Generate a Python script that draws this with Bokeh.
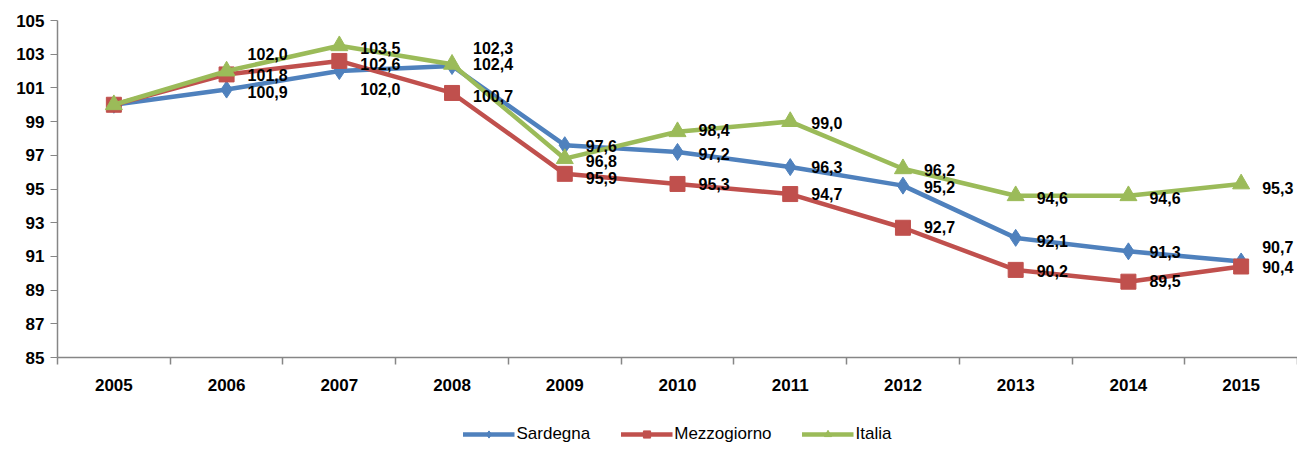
from bokeh.plotting import figure
from bokeh.layouts import column
from bokeh.models import Range1d, FixedTicker, ColumnDataSource, Legend, LegendItem
from bokeh.core.properties import value
from bokeh.embed import file_html
from bokeh.resources import INLINE

years = ["2005", "2006", "2007", "2008", "2009", "2010", "2011", "2012", "2013", "2014", "2015"]
sardegna = [100.0, 100.9, 102.0, 102.3, 97.6, 97.2, 96.3, 95.2, 92.1, 91.3, 90.7]
mezzogiorno = [100.0, 101.8, 102.6, 100.7, 95.9, 95.3, 94.7, 92.7, 90.2, 89.5, 90.4]
italia = [100.0, 102.0, 103.5, 102.4, 96.8, 98.4, 99.0, 96.2, 94.6, 94.6, 95.3]
y_ticks = [85, 87, 89, 91, 93, 95, 97, 99, 101, 103, 105]

# label vertical nudges in screen px (positive = down); index 0 (2005) has no label
sard_dy = [0, 2, 18, -18, 1, 2, 0, 1, 3, 1, -14]
mezz_dy = [0, 1, 3, 3, 4, 0, 0, -1, 1, -1, 0]
ital_dy = [0, -17, 2, 0, 2, -2, 1, 1, 2, 2, 4]

BLUE = "#4F81BD"
RED = "#C0504D"
GREEN = "#9BBB59"
FONT = "Liberation Sans"

x = list(range(len(years)))

p = figure(width=1297, height=410, output_backend="svg", toolbar_location=None,
           x_range=Range1d(-0.5, 10.5), y_range=Range1d(85, 105),
           min_border_left=57, min_border_right=0, min_border_top=20, min_border_bottom=53)
p.outline_line_color = None
p.xgrid.visible = False
p.ygrid.visible = False

series = [("Sardegna", sardegna, BLUE, "diamond", 17, 18, sard_dy),
          ("Mezzogiorno", mezzogiorno, RED, "square", 15, 14, mezz_dy),
          ("Italia", italia, GREEN, "triangle", 17, 16, ital_dy)]

for name, vals, col, mk, sz, lsz, dy in series:
    src = ColumnDataSource(dict(x=x, y=vals))
    p.line("x", "y", source=src, line_color=col, line_width=4.5)
    p.scatter("x", "y", source=src, marker=mk, size=sz, fill_color=col, line_color=col)

for name, vals, col, mk, sz, lsz, dy in series:
    lab = [f"{v:.1f}".replace(".", ",") for v in vals]
    src = ColumnDataSource(dict(x=x[1:], y=vals[1:], t=lab[1:], dy=dy[1:]))
    p.text("x", "y", text="t", source=src, x_offset=21, y_offset="dy",
           text_baseline="middle", text_align="left",
           text_font=value(FONT), text_font_style="bold", text_font_size="16px",
           text_color="black")

# y axis
ya = p.yaxis[0]
ya.ticker = FixedTicker(ticks=y_ticks)
ya.axis_line_color = "#868686"
ya.axis_line_width = 1.5
ya.major_tick_line_color = "#868686"
ya.major_tick_out = 7
ya.major_tick_in = 0
ya.minor_tick_line_color = None
ya.major_label_standoff = 6
ya.major_label_text_font = FONT
ya.major_label_text_font_style = "bold"
ya.major_label_text_font_size = "17px"
ya.major_label_text_color = "black"

# x axis
xa = p.xaxis[0]
xa.ticker = FixedTicker(ticks=x, minor_ticks=[i - 0.5 for i in range(len(years) + 1)])
xa.major_label_overrides = {i: y for i, y in enumerate(years)}
xa.axis_line_color = "#868686"
xa.axis_line_width = 1.5
xa.major_tick_line_color = None
xa.minor_tick_line_color = "#868686"
xa.minor_tick_line_width = 1.5
xa.minor_tick_out = 7
xa.minor_tick_in = 0
xa.major_label_standoff = 14
xa.major_label_text_font = FONT
xa.major_label_text_font_style = "bold"
xa.major_label_text_font_size = "17px"
xa.major_label_text_color = "black"

# legend strip below the chart (its renderers lie outside the strip's range)
lg = figure(width=1297, height=34, output_backend="svg", toolbar_location=None,
            x_range=Range1d(0, 1), y_range=Range1d(0, 1),
            x_axis_location=None, y_axis_location=None,
            min_border_left=0, min_border_right=0, min_border_top=0, min_border_bottom=0)
lg.outline_line_color = None
lg.xgrid.visible = False
lg.ygrid.visible = False
items = []
for name, vals, col, mk, sz, lsz, dy in series:
    src = ColumnDataSource(dict(x=x[:1], y=vals[:1]))
    ln = lg.line("x", "y", source=src, line_color=col, line_width=4.5)
    sc = lg.scatter("x", "y", source=src, marker=mk, size=lsz, fill_color=col, line_color=col)
    items.append(LegendItem(label=name, renderers=[ln, sc]))
legend = Legend(items=items, orientation="horizontal", location="bottom_center",
                glyph_width=52, glyph_height=18, spacing=30, padding=0, margin=0,
                label_text_font=FONT, label_text_font_size="17px", label_text_color="black",
                label_standoff=2, border_line_color=None, background_fill_alpha=0,
                click_policy="none")
lg.add_layout(legend, "center")

layout = column(p, lg, spacing=0)
open("out.html", "w").write(file_html(layout, INLINE))
